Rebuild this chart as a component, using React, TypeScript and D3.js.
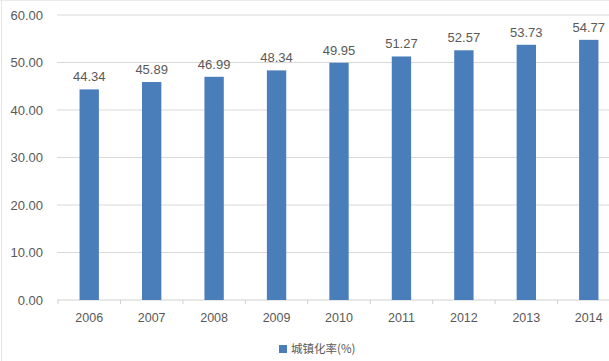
import React from "react";
import * as d3 from "d3";

const years = ["2006", "2007", "2008", "2009", "2010", "2011", "2012", "2013", "2014"];
const rates = [44.34, 45.89, 46.99, 48.34, 49.95, 51.27, 52.57, 53.73, 54.77];
const yTicks = [0, 10, 20, 30, 40, 50, 60];
const legendLabel = "城镇化率(%)";

export default function App() {
  const W = 609, H = 361;
  const x = d3.scaleBand<string>().domain(years).range([58, 620]).paddingInner(0.69).paddingOuter(0.345);
  const y = d3.scaleLinear().domain([0, 60]).range([300, 15]);
  const font = "'Liberation Sans', Arial, sans-serif";
  const txt = "#595959";
  const bar = "#4a7ebb";
  const step = x.step();
  const start = x.range()[0];
  return (
    <svg width={W} height={H} style={{ position: "absolute", left: 0, top: 0, background: "#fff" }}>
      <rect x={0} y={0} width={W} height={H} fill="#fff" />
      <line x1={0} x2={W} y1={0.5} y2={0.5} stroke="#ebebeb" />
      <line x1={1.5} x2={1.5} y1={0} y2={H} stroke="#e6e6e6" />
      {yTicks.map((t) => (
        <g key={t}>
          {t > 0 && <line x1={57} x2={609} y1={y(t)} y2={y(t)} stroke="#d9d9d9" strokeWidth={1} />}
          <text x={43} y={y(t)} dy="0.35em" textAnchor="end" fontFamily={font} fontSize={13} fill={txt}>
            {t.toFixed(2)}
          </text>
        </g>
      ))}
      <line x1={57} x2={609} y1={y(0)} y2={y(0)} stroke="#d0d0d0" />
      {years.map((_, i) => (
        <line key={i} x1={start + i * step} x2={start + i * step} y1={y(0)} y2={y(0) + 4} stroke="#d0d0d0" />
      ))}
      {years.map((yr, i) => (
        <g key={yr}>
          <rect x={x(yr)} y={y(rates[i])} width={x.bandwidth()} height={y(0) - y(rates[i])} fill={bar} />
          <text x={x(yr)! + x.bandwidth() / 2} y={y(rates[i]) - 8} textAnchor="middle" fontFamily={font} fontSize={13} fill={txt}>
            {rates[i].toFixed(2)}
          </text>
          <text x={x(yr)! + x.bandwidth() / 2} y={318} dy="0.35em" textAnchor="middle" fontFamily={font} fontSize={12.5} fill={txt}>
            {yr}
          </text>
        </g>
      ))}
      <rect x={279} y={345} width={8} height={8} fill={bar} />
      <text x={291} y={349} dy="0.35em" fontFamily="'Noto Sans CJK SC', sans-serif" fontSize={11.5} fill={txt}>
        {legendLabel}
      </text>
    </svg>
  );
}
